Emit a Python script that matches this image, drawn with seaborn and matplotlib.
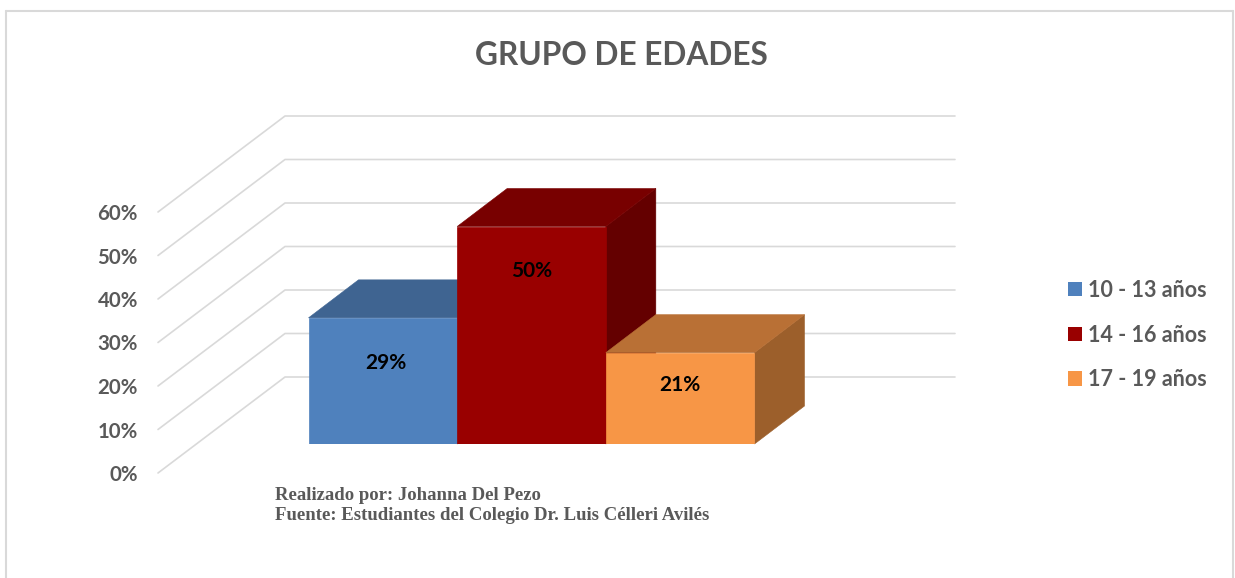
import matplotlib
matplotlib.use('Agg')
import matplotlib.pyplot as plt
from matplotlib.lines import Line2D
from matplotlib.patches import Polygon
import seaborn as sns
import pandas as pd

# datos
grupos = ['10 - 13 años', '14 - 16 años', '17 - 19 años']
porcentajes = [29, 50, 21]
ticks_pct = [0, 10, 20, 30, 40, 50, 60]
titulo = 'GRUPO DE EDADES'
pie_1 = 'Realizado por: Johanna Del Pezo'
pie_2 = 'Fuente: Estudiantes del Colegio Dr. Luis Célleri Avilés'

# colores: frente, tapa, lado
frente = ['#4F81BD', '#990000', '#F79646']
tapa = ['#3F6491', '#780000', '#B97035']
lado = ['#37577E', '#640000', '#9C5F2B']
gris = '#595959'
linea = '#D9D9D9'

W, H = 1235, 578
PX_POR_PCT = 4.35
FUENTE = 'Lato'

sns.set_theme(style='white')
plt.rcParams['font.family'] = [FUENTE, 'DejaVu Sans']

fig = plt.figure(figsize=(W / 100, H / 100), dpi=100, facecolor='white')

# marco exterior, sin lado inferior
for xs, ys in [((6, 6), (578, 11)), ((6, 1233), (11, 11)), ((1233, 1233), (11, 578))]:
    fig.add_artist(Line2D([x / W for x in xs], [1 - y / H for y in ys], color=linea, lw=1.5))

# paredes y rejilla en perspectiva
pared = fig.add_axes([158 / W, (H - 473) / H, 797 / W, 60 * PX_POR_PCT / H])
pared.set_xlim(0, 797)
pared.set_ylim(0, 60)
sube = 96 / PX_POR_PCT
for t in ticks_pct:
    pared.plot([0, 127, 797], [t, t + sube, t + sube], color=linea, lw=1.2, clip_on=False)
pared.set_xticks([])
pared.set_yticks(ticks_pct)
pared.set_yticklabels([f'{t}%' for t in ticks_pct], color=gris, fontsize=14.7, fontweight='bold')
pared.tick_params(axis='y', length=0, pad=14.5)
sns.despine(ax=pared, left=True, bottom=True)
pared.patch.set_alpha(0)

# barras, plano frontal
df = pd.DataFrame({'grupo': grupos, 'pct': porcentajes})
ax = fig.add_axes([308.5 / W, (H - 444) / H, 446 / W, 60 * PX_POR_PCT / H])
sns.barplot(data=df, x='grupo', y='pct', hue='grupo', palette=frente, dodge=False,
            width=1, linewidth=0, saturation=1, legend=True, ax=ax)
ax.set_xlim(-0.5, 2.5)
ax.set_ylim(0, 60)

dx = 50 / (446 / 3)
dy = 38 / PX_POR_PCT
caida = [45, 44, 32]
desvio = [3, 0, 0]
for i, cont in enumerate(ax.containers):
    barra = cont[0]
    x0 = barra.get_x()
    x1 = x0 + barra.get_width()
    alto = barra.get_height()
    barra.set_zorder(3 * i + 3)
    barra.set_edgecolor(frente[i])
    barra.set_linewidth(0.5)
    ax.add_patch(Polygon([(x1, 0), (x1 + dx, dy), (x1 + dx, alto + dy), (x1, alto)],
                         facecolor=lado[i], edgecolor=lado[i], lw=0.4,
                         zorder=3 * i + 1, clip_on=False))
    ax.add_patch(Polygon([(x0, alto), (x1, alto), (x1 + dx, alto + dy), (x0 + dx, alto + dy)],
                         facecolor=tapa[i], edgecolor=tapa[i], lw=0.4,
                         zorder=3 * i + 2, clip_on=False))
    ax.annotate(f'{porcentajes[i]}%', (x0 + barra.get_width() / 2, alto),
                xytext=(desvio[i], -caida[i]), textcoords='offset pixels',
                ha='center', va='center', fontsize=15, fontweight='bold',
                color='black', zorder=20)

ax.patch.set_alpha(0)
ax.set_axis_off()

ax.legend(loc='center left', bbox_to_anchor=(1068 / W, 1 - 335 / H), bbox_transform=fig.transFigure,
          frameon=False, handlelength=0.65, handleheight=0.65, handletextpad=0.3,
          labelspacing=1.1, borderpad=0, borderaxespad=0,
          prop={'family': FUENTE, 'weight': 'bold', 'size': 15.5}, labelcolor=gris)

fig.text(621 / W, 1 - 65 / H, titulo, ha='center', va='baseline', fontsize=22.8,
         fontweight='bold', color=gris)
fig.text(275 / W, 1 - 496 / H, pie_1, ha='left', va='center', fontsize=13.5,
         fontweight='bold', color=gris, family='Liberation Serif')
fig.text(275 / W, 1 - 516 / H, pie_2, ha='left', va='center', fontsize=13.5,
         fontweight='bold', color=gris, family='Liberation Serif')

fig.savefig('out.png', dpi=100)
